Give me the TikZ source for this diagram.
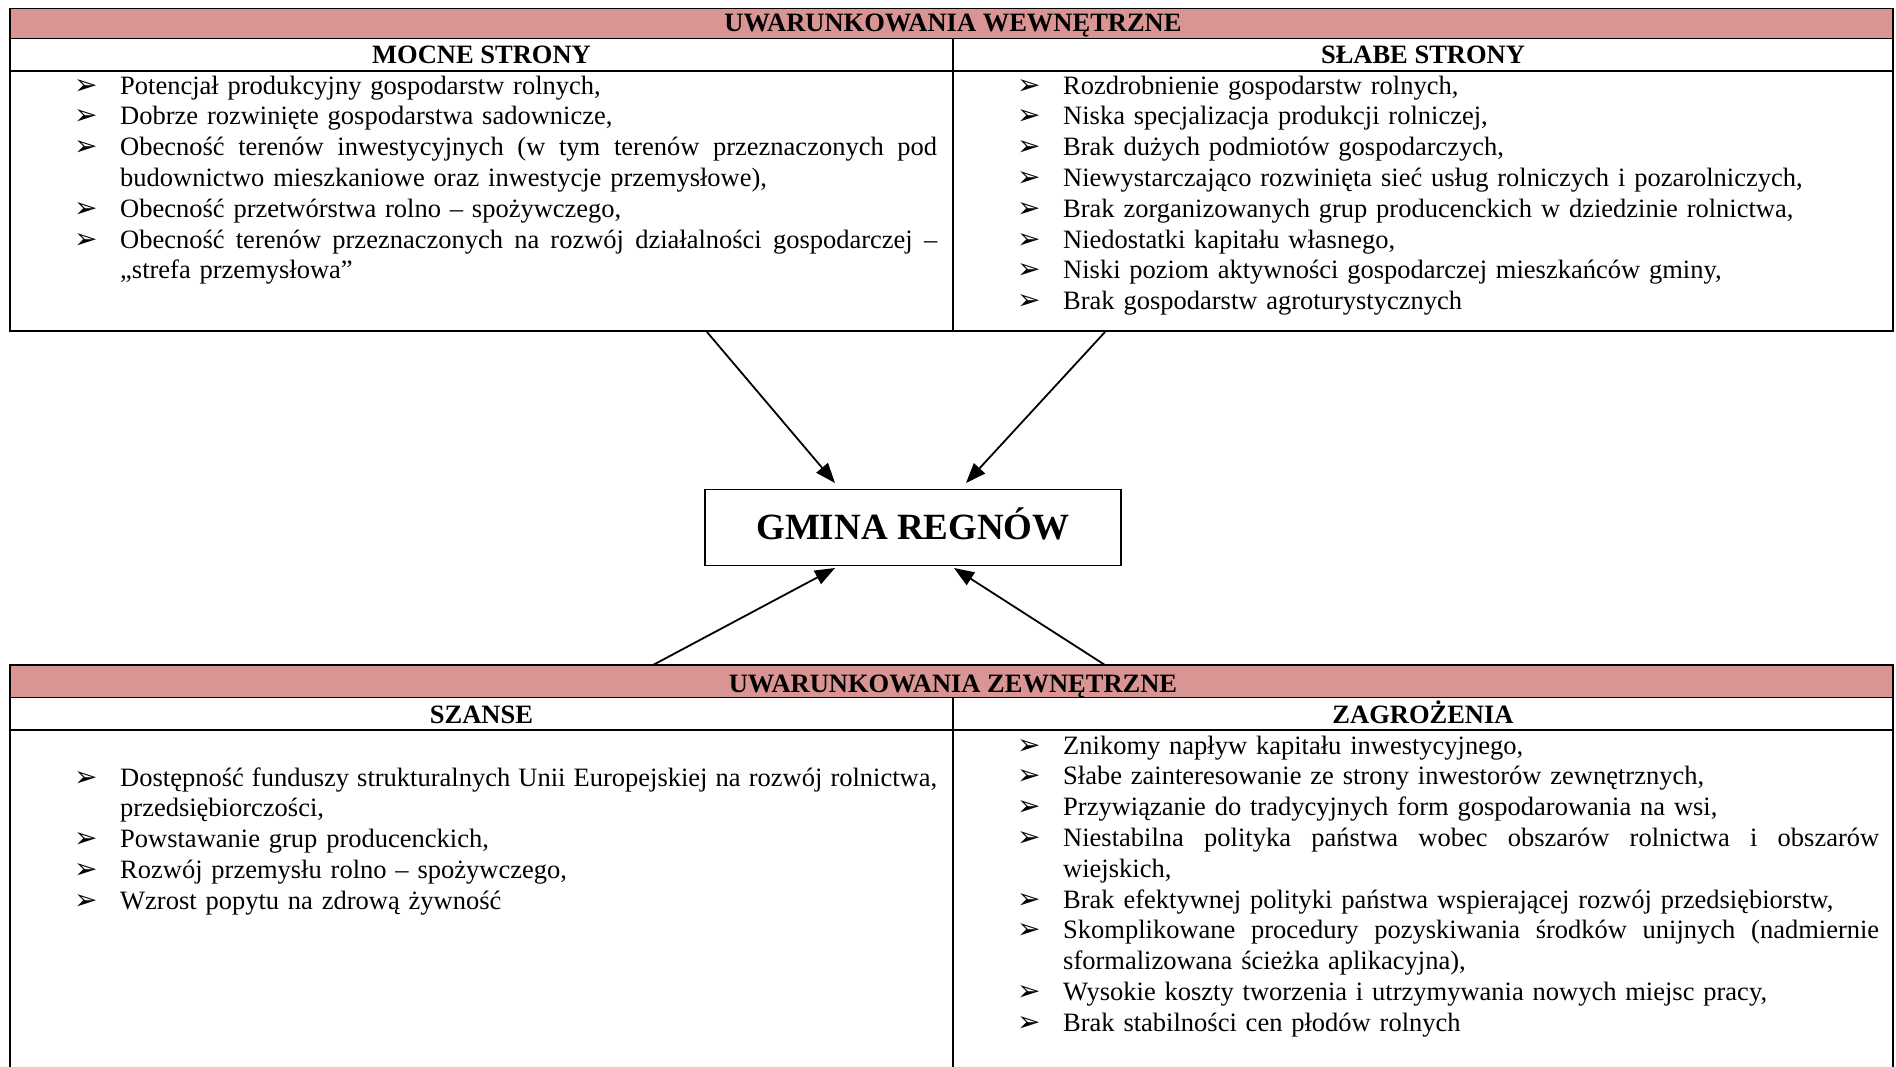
\documentclass[tikz,border=0pt]{standalone}
\usepackage{fontspec}
\setmainfont{Liberation Serif}
\newfontfamily\bulfont{DejaVu Sans}
\usetikzlibrary{arrows.meta}
\definecolor{hdrpink}{RGB}{217,149,148}
\newcommand\bl{\makebox[46pt][l]{\bulfont\fontsize{28}{28}\selectfont ➢}}
\newcommand\jl[2][817pt]{\hbox to #1{\spaceskip=0.25em plus 2em minus 0.1em\relax #2}}
\newcommand\ind{\hspace*{46pt}}
\begin{document}
\begin{tikzpicture}[x=1pt,y=-1pt,
  tbl/.style={line width=1.8pt,line cap=rect},
  hdr/.style={anchor=base,inner sep=0pt,font=\bfseries\fontsize{26.5}{30}\selectfont},
  lst/.style={anchor=base west,inner sep=0pt,text width=863pt,align=left,font=\fontsize{26.5}{30.8}\selectfont},
  arr/.style={line width=1.8pt,-{Triangle[length=20pt,width=15pt]}}]
\useasboundingbox (0,0) rectangle (1896,1066);
\fill[white] (0,0) rectangle (1896,1066);
% top table
\fill[hdrpink] (10,8.5) rectangle (1893,38.5);
\draw[tbl] (10,8.5) rectangle (1893,331);
\draw[tbl] (10,38.5) -- (1893,38.5);
\draw[tbl] (10,71) -- (1893,71);
\draw[tbl] (953,38.5) -- (953,331);
\node[hdr] (wew) at (953,31) {UWARUNKOWANIA WEWNĘTRZNE};
\node[hdr] (mocne) at (481.5,63.4) {MOCNE STRONY};
\node[hdr] (slabe) at (1423,63.4) {SŁABE STRONY};
\node[lst] (mocnelist) at (74,94) {%
\bl Potencjał produkcyjny gospodarstw rolnych,\\
\bl Dobrze rozwinięte gospodarstwa sadownicze,\\
\bl\jl{Obecność terenów inwestycyjnych (w tym terenów przeznaczonych pod}\\
\ind budownictwo mieszkaniowe oraz inwestycje przemysłowe),\\
\bl Obecność przetwórstwa rolno – spożywczego,\\
\bl\jl{Obecność terenów przeznaczonych na rozwój działalności gospodarczej –}\\
\ind „strefa przemysłowa”};
\node[lst] (slabelist) at (1017,94) {%
\bl Rozdrobnienie gospodarstw rolnych,\\
\bl Niska specjalizacja produkcji rolniczej,\\
\bl Brak dużych podmiotów gospodarczych,\\
\bl Niewystarczająco rozwinięta sieć usług rolniczych i pozarolniczych,\\
\bl Brak zorganizowanych grup producenckich w dziedzinie rolnictwa,\\
\bl Niedostatki kapitału własnego,\\
\bl Niski poziom aktywności gospodarczej mieszkańców gminy,\\
\bl Brak gospodarstw agroturystycznych};
% centre
\node[draw,line width=1.8pt,minimum width=416pt,minimum height=76pt,inner sep=0pt,
  text height=24.5pt,text depth=0pt,font=\bfseries\fontsize{37}{40}\selectfont] (gmina) at (913,527.5) {GMINA REGNÓW};
\coordinate (a1s) at (707,332); \coordinate (a1e) at (835,483);
\coordinate (a2s) at (1105,332); \coordinate (a2e) at (966,483);
\coordinate (a3s) at (653,665); \coordinate (a3e) at (835,568);
\coordinate (a4s) at (1105,665); \coordinate (a4e) at (954,568);
\draw[arr] (a1s) -- (a1e);
\draw[arr] (a2s) -- (a2e);
\draw[arr] (a3s) -- (a3e);
\draw[arr] (a4s) -- (a4e);
% bottom table
\fill[hdrpink] (10,665) rectangle (1893,697.5);
\draw[tbl] (10,1070) -- (10,665) -- (1893,665) -- (1893,1070);
\draw[tbl] (10,697.5) -- (1893,697.5);
\draw[tbl] (10,730) -- (1893,730);
\draw[tbl] (953,697.5) -- (953,1070);
\node[hdr] (zew) at (953,692) {UWARUNKOWANIA ZEWNĘTRZNE};
\node[hdr] (szanse) at (481.5,723.5) {SZANSE};
\node[hdr] (zagr) at (1423,723.5) {ZAGROŻENIA};
\node[lst] (szanselist) at (74,786) {%
\bl\jl{Dostępność funduszy strukturalnych Unii Europejskiej na rozwój rolnictwa,}\\
\ind przedsiębiorczości,\\
\bl Powstawanie grup producenckich,\\
\bl Rozwój przemysłu rolno – spożywczego,\\
\bl Wzrost popytu na zdrową żywność};
\node[lst,text width=862pt] (zagrlist) at (1017,754) {%
\bl Znikomy napływ kapitału inwestycyjnego,\\
\bl Słabe zainteresowanie ze strony inwestorów zewnętrznych,\\
\bl Przywiązanie do tradycyjnych form gospodarowania na wsi,\\
\bl\jl[816pt]{Niestabilna polityka państwa wobec obszarów rolnictwa i obszarów}\\
\ind wiejskich,\\
\bl Brak efektywnej polityki państwa wspierającej rozwój przedsiębiorstw,\\
\bl\jl[816pt]{Skomplikowane procedury pozyskiwania środków unijnych (nadmiernie}\\
\ind sformalizowana ścieżka aplikacyjna),\\
\bl Wysokie koszty tworzenia i utrzymywania nowych miejsc pracy,\\
\bl Brak stabilności cen płodów rolnych};
\end{tikzpicture}
\end{document}
